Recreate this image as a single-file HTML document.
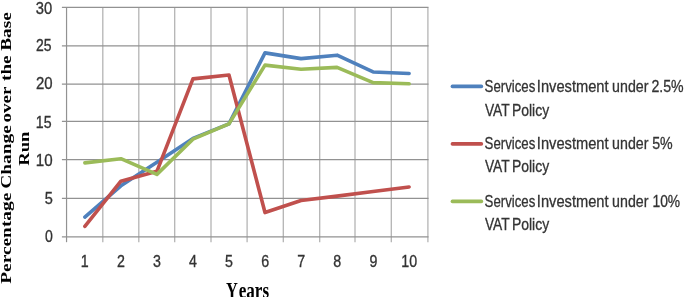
<!DOCTYPE html>
<html><head><meta charset="utf-8"><style>
html,body{margin:0;padding:0;background:#fff;width:685px;height:297px;overflow:hidden}
svg{display:block}

.gv{stroke:#b4b4b4;stroke-width:1.3;fill:none}
.gh{stroke:#929292;stroke-width:1.2;fill:none}
.a{stroke:#929292;stroke-width:1.2;fill:none}
.t{font-family:"Liberation Sans",sans-serif;font-size:15px;fill:#333;stroke:#333;stroke-width:0.3px}
.l{font-family:"Liberation Sans",sans-serif;font-size:16.2px;fill:#333;stroke:#333;stroke-width:0.3px}
.ti{font-family:"Liberation Serif",serif;font-weight:bold;font-size:15px;fill:#000}
.s{fill:none;stroke-width:3.6;stroke-linejoin:round;stroke-linecap:round}
</style></head><body>
<div id="w"><svg width="685" height="297" viewBox="0 0 685 297">
<line x1="102.80" y1="7.4" x2="102.80" y2="242.2" class="gv"/>
<line x1="138.80" y1="7.4" x2="138.80" y2="242.2" class="gv"/>
<line x1="174.70" y1="7.4" x2="174.70" y2="242.2" class="gv"/>
<line x1="211.00" y1="7.4" x2="211.00" y2="242.2" class="gv"/>
<line x1="247.10" y1="7.4" x2="247.10" y2="242.2" class="gv"/>
<line x1="283.30" y1="7.4" x2="283.30" y2="242.2" class="gv"/>
<line x1="319.70" y1="7.4" x2="319.70" y2="242.2" class="gv"/>
<line x1="355.00" y1="7.4" x2="355.00" y2="242.2" class="gv"/>
<line x1="391.30" y1="7.4" x2="391.30" y2="242.2" class="gv"/>
<line x1="427.90" y1="7.4" x2="427.90" y2="242.2" class="gv"/>
<line x1="61.9" y1="198.40" x2="428.50" y2="198.40" class="gh"/>
<line x1="61.9" y1="159.65" x2="428.50" y2="159.65" class="gh"/>
<line x1="61.9" y1="121.40" x2="428.50" y2="121.40" class="gh"/>
<line x1="61.9" y1="84.05" x2="428.50" y2="84.05" class="gh"/>
<line x1="61.9" y1="45.90" x2="428.50" y2="45.90" class="gh"/>
<line x1="61.9" y1="7.40" x2="428.50" y2="7.40" class="gh"/>
<line x1="66.55" y1="7.4" x2="66.55" y2="242.2" class="a"/>
<line x1="61.9" y1="236.85" x2="428.50" y2="236.85" class="a"/>
<polyline class="s" stroke="#4F81BD" points="84.85,217.14 120.88,185.81 156.91,162.13 192.94,138.44 228.97,123.93 265.00,52.88 301.03,58.61 337.06,55.17 373.09,71.98 409.12,73.50"/>
<polyline class="s" stroke="#C0504D" points="84.85,226.30 120.88,181.23 156.91,171.30 192.94,78.85 228.97,75.03 265.00,212.55 301.03,200.48 337.06,196.13 373.09,191.54 409.12,186.96"/>
<polyline class="s" stroke="#9BBB59" points="84.85,162.89 120.88,158.69 156.91,174.35 192.94,139.21 228.97,123.93 265.00,65.10 301.03,69.30 337.06,67.39 373.09,82.67 409.12,83.82"/>
<line x1="452.4" y1="86.4" x2="481.4" y2="86.4" stroke="#4F81BD" stroke-width="3.6" stroke-linecap="round"/>
<line x1="452.4" y1="143.9" x2="481.4" y2="143.9" stroke="#C0504D" stroke-width="3.6" stroke-linecap="round"/>
<line x1="452.4" y1="201.4" x2="481.4" y2="201.4" stroke="#9BBB59" stroke-width="3.6" stroke-linecap="round"/>
<text class="l" x="484.59" y="92.40" textLength="50.68" lengthAdjust="spacingAndGlyphs">Services</text>
<text class="l" x="536.84" y="92.40" textLength="71.73" lengthAdjust="spacingAndGlyphs">Investment</text>
<text class="l" x="612.12" y="92.40" textLength="36.31" lengthAdjust="spacingAndGlyphs">under</text>
<text class="l" x="651.45" y="92.40" textLength="32.23" lengthAdjust="spacingAndGlyphs">2.5%</text>
<text class="l" x="484.89" y="115.80" textLength="24.79" lengthAdjust="spacingAndGlyphs">VAT</text>
<text class="l" x="511.92" y="115.80" textLength="37.24" lengthAdjust="spacingAndGlyphs">Policy</text>
<text class="l" x="484.59" y="149.10" textLength="50.68" lengthAdjust="spacingAndGlyphs">Services</text>
<text class="l" x="536.84" y="149.10" textLength="71.73" lengthAdjust="spacingAndGlyphs">Investment</text>
<text class="l" x="612.12" y="149.10" textLength="36.31" lengthAdjust="spacingAndGlyphs">under</text>
<text class="l" x="652.14" y="149.10" textLength="20.53" lengthAdjust="spacingAndGlyphs">5%</text>
<text class="l" x="484.89" y="172.30" textLength="24.79" lengthAdjust="spacingAndGlyphs">VAT</text>
<text class="l" x="511.92" y="172.30" textLength="37.24" lengthAdjust="spacingAndGlyphs">Policy</text>
<text class="l" x="484.59" y="207.10" textLength="50.68" lengthAdjust="spacingAndGlyphs">Services</text>
<text class="l" x="536.84" y="207.10" textLength="71.73" lengthAdjust="spacingAndGlyphs">Investment</text>
<text class="l" x="612.12" y="207.10" textLength="36.31" lengthAdjust="spacingAndGlyphs">under</text>
<text class="l" x="652.43" y="207.10" textLength="27.73" lengthAdjust="spacingAndGlyphs">10%</text>
<text class="l" x="484.89" y="230.20" textLength="24.79" lengthAdjust="spacingAndGlyphs">VAT</text>
<text class="l" x="511.92" y="230.20" textLength="37.24" lengthAdjust="spacingAndGlyphs">Policy</text>
<text class="t" transform="translate(35.86,13.70) scale(1,1.150)" textLength="16.42" lengthAdjust="spacingAndGlyphs">30</text>
<text class="t" transform="translate(36.00,51.05) scale(1,1.150)" textLength="15.54" lengthAdjust="spacingAndGlyphs">25</text>
<text class="t" transform="translate(35.95,89.05) scale(1,1.150)" textLength="16.63" lengthAdjust="spacingAndGlyphs">20</text>
<text class="t" transform="translate(35.82,127.70) scale(1,1.150)" textLength="15.73" lengthAdjust="spacingAndGlyphs">15</text>
<text class="t" transform="translate(35.74,166.05) scale(1,1.150)" textLength="16.86" lengthAdjust="spacingAndGlyphs">10</text>
<text class="t" transform="translate(44.67,203.70) scale(1,1.150)" textLength="8.11" lengthAdjust="spacingAndGlyphs">5</text>
<text class="t" transform="translate(44.93,242.05) scale(1,1.150)" textLength="7.83" lengthAdjust="spacingAndGlyphs">0</text>
<text class="t" transform="translate(80.64,266.60) scale(1,1.150)" textLength="7.93" lengthAdjust="spacingAndGlyphs">1</text>
<text class="t" transform="translate(116.96,266.60) scale(1,1.150)" textLength="7.93" lengthAdjust="spacingAndGlyphs">2</text>
<text class="t" transform="translate(153.04,266.60) scale(1,1.150)" textLength="7.93" lengthAdjust="spacingAndGlyphs">3</text>
<text class="t" transform="translate(189.12,266.60) scale(1,1.150)" textLength="7.93" lengthAdjust="spacingAndGlyphs">4</text>
<text class="t" transform="translate(225.08,266.60) scale(1,1.150)" textLength="7.93" lengthAdjust="spacingAndGlyphs">5</text>
<text class="t" transform="translate(261.16,266.60) scale(1,1.150)" textLength="7.93" lengthAdjust="spacingAndGlyphs">6</text>
<text class="t" transform="translate(297.36,266.60) scale(1,1.150)" textLength="7.93" lengthAdjust="spacingAndGlyphs">7</text>
<text class="t" transform="translate(333.32,266.60) scale(1,1.150)" textLength="7.93" lengthAdjust="spacingAndGlyphs">8</text>
<text class="t" transform="translate(369.40,266.60) scale(1,1.150)" textLength="7.93" lengthAdjust="spacingAndGlyphs">9</text>
<text class="t" transform="translate(401.33,266.60) scale(1,1.150)" textLength="15.85" lengthAdjust="spacingAndGlyphs">10</text>
<text class="ti" transform="translate(11.00,283.82) rotate(-90)" textLength="91.19" lengthAdjust="spacingAndGlyphs">Percentage</text>
<text class="ti" transform="translate(11.00,188.87) rotate(-90)" textLength="63.74" lengthAdjust="spacingAndGlyphs">Change</text>
<text class="ti" transform="translate(11.00,122.53) rotate(-90)" textLength="35.95" lengthAdjust="spacingAndGlyphs">over</text>
<text class="ti" transform="translate(11.00,81.02) rotate(-90)" textLength="25.66" lengthAdjust="spacingAndGlyphs">the</text>
<text class="ti" transform="translate(11.00,50.82) rotate(-90)" textLength="38.56" lengthAdjust="spacingAndGlyphs">Base</text>
<text class="ti" transform="translate(29.00,165.81) rotate(-90)" textLength="34.16" lengthAdjust="spacingAndGlyphs">Run</text>
<text class="ti" transform="translate(226.03,297.80) scale(1,1.569)" textLength="11.85" lengthAdjust="spacingAndGlyphs">Y</text>
<text class="ti" transform="translate(238.63,297.80) scale(1,1.569)" textLength="30.43" lengthAdjust="spacingAndGlyphs">ears</text>
</svg></div>
</body></html>
